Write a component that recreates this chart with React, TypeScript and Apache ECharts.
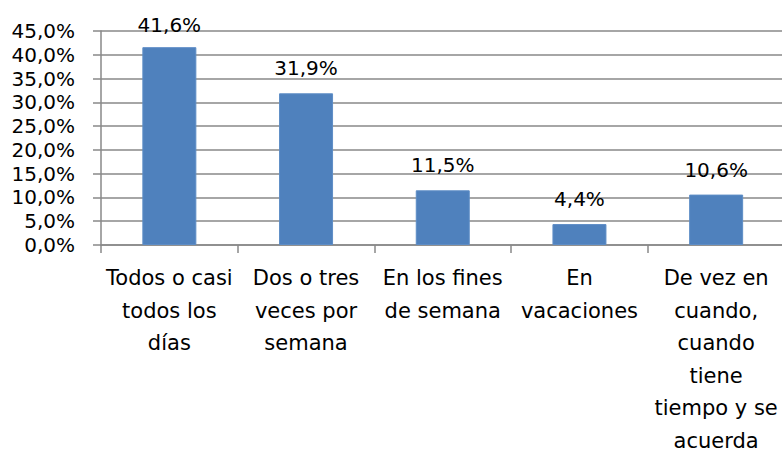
import React, { useEffect, useRef } from "react";
import * as echarts from "echarts";

const categories: string[] = [
  "Todos o casi\ntodos los\ndías",
  "Dos o tres\nveces por\nsemana",
  "En los fines\nde semana",
  "En\nvacaciones",
  "De vez en\ncuando,\ncuando\ntiene\ntiempo y se\nacuerda",
];
const values: number[] = [41.6, 31.9, 11.5, 4.4, 10.6];
const yMin = 0;
const yMax = 45;
const yInterval = 5;

const fmt = (v: number) => v.toFixed(1).replace(".", ",") + "%";

const FONT = "DejaVu Sans";
const GRAY = "#898989";

export default function App() {
  const ref = useRef<HTMLDivElement>(null);
  useEffect(() => {
    if (!ref.current) return;
    const chart = echarts.init(ref.current, undefined, { renderer: "svg" });
    chart.setOption({
      animation: false,
      backgroundColor: "#ffffff",
      grid: {
        left: 101,
        top: 31,
        width: 683.5,
        height: 214,
        containLabel: false,
        outerBoundsMode: "none",
      },
      xAxis: {
        type: "category",
        data: categories,
        axisLine: { show: true, lineStyle: { color: GRAY, width: 1.5 } },
        axisTick: { show: true, length: 8, lineStyle: { color: GRAY, width: 1.5 } },
        axisLabel: {
          interval: 0,
          margin: 17,
          color: "#000",
          fontFamily: FONT,
          fontSize: 21,
          lineHeight: 32.5,
          align: "center",
        },
      },
      yAxis: {
        type: "value",
        min: yMin,
        max: yMax,
        interval: yInterval,
        axisLine: { show: true, lineStyle: { color: GRAY, width: 1.5 } },
        axisTick: { show: true, length: 8, lineStyle: { color: GRAY, width: 1.5 } },
        splitLine: { show: true, lineStyle: { color: GRAY, width: 1.5 } },
        axisLabel: {
          margin: 26,
          color: "#000",
          fontFamily: FONT,
          fontSize: 20,
          formatter: (v: number) => fmt(v),
        },
      },
      series: [
        {
          type: "bar",
          data: values.map((v, i) => (i === 0 ? { value: v, label: { distance: 12 } } : v)),
          barWidth: 54,
          itemStyle: { color: "#4F81BD", borderColor: "#5E8DC6", borderWidth: 1 },
          label: {
            show: true,
            position: "top",
            distance: 15,
            color: "#000",
            fontFamily: FONT,
            fontSize: 20,
            formatter: (p: any) => fmt(p.value),
          },
        },
      ],
    });
    return () => chart.dispose();
  }, []);
  return (
    <div
      ref={ref}
      style={{ position: "fixed", left: 0, top: 0, width: 782, height: 452, background: "#fff" }}
    />
  );
}
